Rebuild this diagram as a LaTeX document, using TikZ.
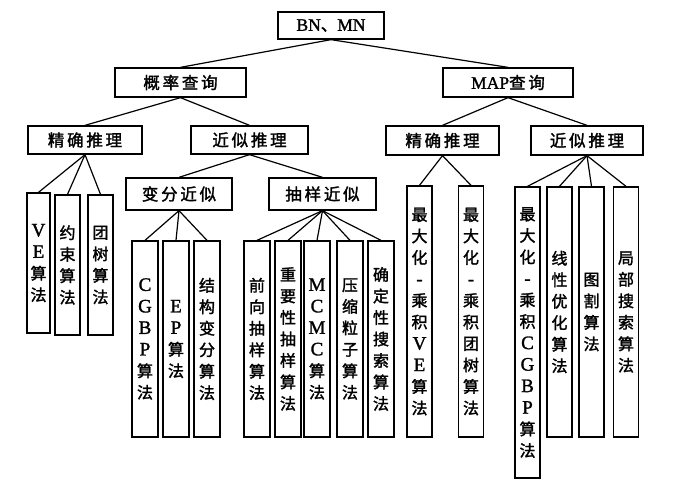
\documentclass[tikz,border=0pt]{standalone}
\usepackage{fontspec}
\setmainfont{Liberation Serif}[FakeBold=1.5]
\newfontfamily\cjk{Noto Sans CJK SC}[FakeBold=1.8]
\newfontfamily\latb{Liberation Serif}[FakeBold=1.5]
\newcommand\LL[1]{{\latb #1}}
\newcommand\LV[1]{{\latb\fontsize{19}{21.5}\selectfont #1}}
\tikzset{
  box/.style={draw, line width=1.3pt, inner sep=0pt, align=center,
    font=\cjk\fontsize{16.5}{21.5}\selectfont},
  leaf/.style={box, minimum width=25pt, font=\cjk\fontsize{16}{21.5}\selectfont},
  link/.style={line width=1.2pt}
}
\begin{document}
\begin{tikzpicture}[x=1pt,y=-1pt]
\useasboundingbox (0,0) rectangle (675,492);
% level 0
\node[box, minimum width=106pt, minimum height=27pt] (root) at (331,25.5) {\LL{\fontsize{17.5}{20}\selectfont BN}、\LL{\fontsize{17.5}{20}\selectfont MN}};
% level 1
\node[box, minimum width=131pt, minimum height=29pt] (prob) at (180.5,82.5) {概\,率\,查\,询};
\node[box, minimum width=130pt, minimum height=29pt] (map) at (508,82.5) {\LL{\fontsize{17.5}{20}\selectfont MAP}查\,询};
% level 2
\node[box, minimum width=114pt, minimum height=28pt] (pex) at (85,140) {精\,确\,推\,理};
\node[box, minimum width=117pt, minimum height=28pt] (pap) at (249.5,140) {近\,似\,推\,理};
\node[box, minimum width=113pt, minimum height=29pt] (mex) at (442.5,140.5) {精\,确\,推\,理};
\node[box, minimum width=112pt, minimum height=29pt] (map2) at (587,140.5) {近\,似\,推\,理};
% level 3
\node[box, minimum width=106pt, minimum height=32pt] (var) at (179,194) {变\,分\,近\,似};
\node[box, minimum width=107pt, minimum height=32pt] (smp) at (322.5,194) {抽\,样\,近\,似};
% leaves under exact (prob)
\node[leaf, minimum width=23pt, minimum height=140pt] (ve) at (38.5,263) {\LV{V}\\\LV{E}\\算\\法};
\node[leaf, minimum height=140pt] (ys) at (67.5,265) {约\\束\\算\\法};
\node[leaf, minimum height=140pt] (tt) at (100.5,265) {团\\树\\算\\法};
% leaves under variational
\node[leaf, minimum width=26pt, minimum height=196pt] (cgbp) at (145,339) {\LV{C}\\\LV{G}\\\LV{B}\\\LV{P}\\算\\法};
\node[leaf, minimum width=26pt, minimum height=196pt] (ep) at (176,339) {\LV{E}\\\LV{P}\\算\\法};
\node[leaf, minimum width=26pt, minimum height=196pt] (jg) at (207,339) {结\\构\\变\\分\\算\\法};
% leaves under sampling
\node[leaf, minimum width=26pt, minimum height=196pt] (qx) at (257,339) {前\\向\\抽\\样\\算\\法};
\node[leaf, minimum width=26pt, minimum height=196pt] (zy) at (288,339) {重\\要\\性\\抽\\样\\算\\法};
\node[leaf, minimum width=26pt, minimum height=196pt] (mc) at (317,339) {\LV{M}\\\LV{C}\\\LV{M}\\\LV{C}\\算\\法};
\node[leaf, minimum width=26pt, minimum height=196pt] (ys2) at (350,339) {压\\缩\\粒\\子\\算\\法};
\node[leaf, minimum width=26pt, minimum height=196pt] (qd) at (381,339) {确\\定\\性\\搜\\索\\算\\法};
% MAP exact leaves
\node[leaf, minimum height=251pt] (mve) at (419.5,311.5) {最\\大\\化\\\LV{-}\\乘\\积\\\LV{V}\\\LV{E}\\算\\法};
\node[leaf, minimum height=251pt] (mtt) at (471,311.5) {最\\大\\化\\\LV{-}\\乘\\积\\团\\树\\算\\法};
% MAP approx leaves
\node[leaf, minimum height=291pt] (mcg) at (527.5,332.5) {最\\大\\化\\\LV{-}\\乘\\积\\\LV{C}\\\LV{G}\\\LV{B}\\\LV{P}\\算\\法};
\node[leaf, minimum height=250pt] (xx) at (559.5,312) {线\\性\\优\\化\\算\\法};
\node[leaf, minimum height=250pt] (tg) at (591.5,312) {图\\割\\算\\法};
\node[leaf, minimum height=250pt] (jb) at (626,312) {局\\部\\搜\\索\\算\\法};
% connectors
\draw[link] (root.south) -- (prob.north);
\draw[link] (root.south) -- (map.north);
\draw[link] (prob.south) -- (pex.north);
\draw[link] (prob.south) -- (pap.north);
\draw[link] (map.south) -- (mex.north);
\draw[link] (map.south) -- (map2.north);
\draw[link] (pap.south) -- (var.north);
\draw[link] (pap.south) -- (smp.north);
\foreach \c in {ve,ys,tt} \draw[link] (pex.south) -- (\c.north);
\foreach \c in {cgbp,ep,jg} \draw[link] (var.south) -- (\c.north);
\foreach \c in {qx,zy,mc,ys2,qd} \draw[link] (smp.south) -- (\c.north);
\foreach \c in {mve,mtt} \draw[link] (mex.south) -- (\c.north);
\foreach \c in {mcg,xx,tg,jb} \draw[link] (map2.south) -- (\c.north);
\end{tikzpicture}
\end{document}
